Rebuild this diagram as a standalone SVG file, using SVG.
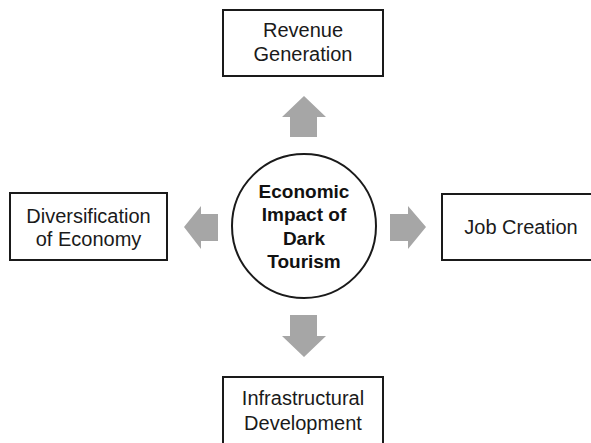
<svg xmlns="http://www.w3.org/2000/svg" width="591" height="443" viewBox="0 0 591 443">
<style>
.box{fill:#fff;stroke:#1a1a1a;stroke-width:2}
.t{font-family:"Liberation Sans",Arial,sans-serif;font-size:20px;fill:#1a1a1a;text-anchor:middle}
.b{font-family:"Liberation Sans",Arial,sans-serif;font-size:19px;font-weight:bold;fill:#111;text-anchor:middle}
.arr{fill:#a6a6a6}
</style>
<rect width="591" height="443" fill="#fff"/>
<g id="connectors">
<polygon class="arr" points="304,96 326,117 317,117 317,137 290,137 290,117 282,117"/>
<polygon class="arr" points="304,357 326,336 317,336 317,315 290,315 290,336 282,336"/>
<polygon class="arr" points="184,227 201,206 201,214 218,214 218,241 201,241 201,249"/>
<polygon class="arr" points="426,227 408,206 408,214 390,214 390,241 408,241 408,249"/>
</g>
<g id="center">
<circle cx="304" cy="226" r="72" fill="#fff" stroke="#1a1a1a" stroke-width="2"/>
<text class="b" x="304" y="198">Economic</text>
<text class="b" x="304" y="221">Impact of</text>
<text class="b" x="304" y="245">Dark</text>
<text class="b" x="304" y="268">Tourism</text>
</g>
<g id="revenue">
<rect class="box" x="223" y="10" width="160" height="66"/>
<text class="t" x="303" y="37">Revenue</text>
<text class="t" x="303" y="61">Generation</text>
</g>
<g id="diversification">
<rect class="box" x="10" y="193" width="157" height="67"/>
<text class="t" x="88.5" y="223">Diversification</text>
<text class="t" x="88.5" y="246">of Economy</text>
</g>
<g id="job">
<rect class="box" x="442" y="194" width="160" height="66"/>
<text class="t" x="521" y="234">Job Creation</text>
</g>
<g id="infra">
<rect class="box" x="223" y="377" width="160" height="80"/>
<text class="t" x="303" y="405">Infrastructural</text>
<text class="t" x="303" y="430">Development</text>
</g>
</svg>
